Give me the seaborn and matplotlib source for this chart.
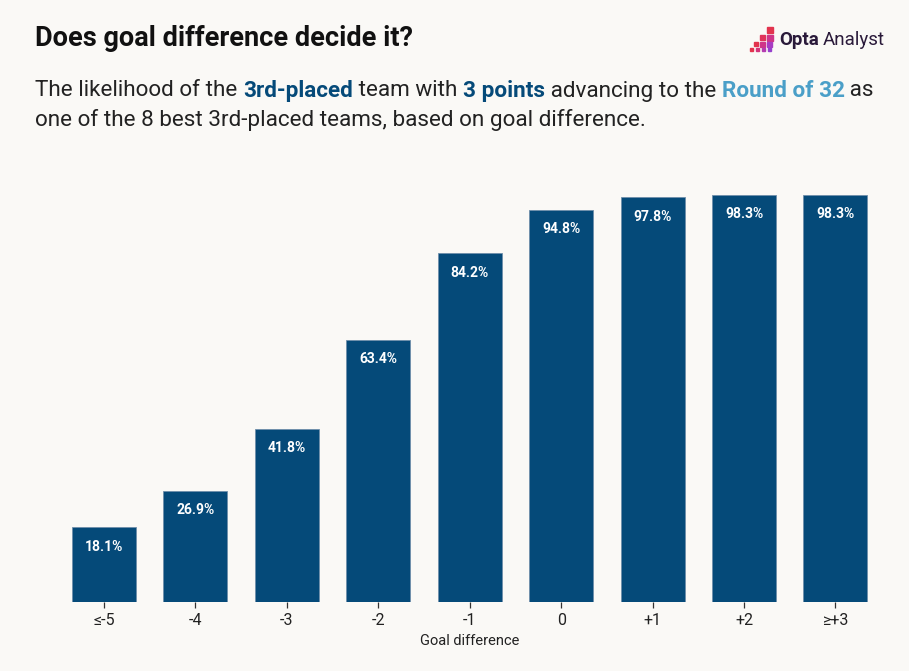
import matplotlib
matplotlib.use("Agg")
import matplotlib.pyplot as plt
import seaborn as sns
import pandas as pd
from matplotlib.patches import Rectangle

categories = ["≤-5", "-4", "-3", "-2", "-1", "0", "+1", "+2", "≥+3"]
likelihood = [18.1, 26.9, 41.8, 63.4, 84.2, 94.8, 97.8, 98.3, 98.3]

title = "Does goal difference decide it?"
xlabel = "Goal difference"

BG = "#faf9f6"
BAR = "#054a79"
DARK = "#111111"
LIGHTBLUE = "#4a9fc8"

sns.set_theme(style="white")
plt.rcParams["font.family"] = ["Roboto", "DejaVu Sans"]

df = pd.DataFrame({"gd": categories, "p": likelihood})

fig = plt.figure(figsize=(9.09, 6.71), dpi=100, facecolor=BG)
ax = fig.add_axes([0.0641, 0.1028, 0.9053, 0.617])
ax.set_facecolor(BG)

sns.barplot(data=df, x="gd", y="p", order=categories, color=BAR, saturation=1,
            width=0.7, edgecolor="#6f8fab", linewidth=0.6, ax=ax)

ax.set_xlim(-0.5, len(categories) - 0.5)
ax.set_ylim(0, 100)
for s in ax.spines.values():
    s.set_visible(False)
ax.set_yticks([])
ax.set_ylabel("")
ax.tick_params(axis="x", length=4, width=0.9, color="#333333", labelsize=11.5,
               labelcolor="#222222", pad=4, bottom=True)
ax.set_xlabel(xlabel, fontsize=10.5, color="#222222", labelpad=4)

for i, v in enumerate(likelihood):
    ax.annotate(f"{v}%", (i, v), xytext=(0, -14), textcoords="offset points",
                ha="center", va="center", color="white", fontsize=10,
                fontweight="bold")

# Title
fig.text(35 / 909, 1 - 38 / 671, title, fontsize=19.5, fontweight="bold",
         color=DARK, va="center", ha="left")

# Subtitle with coloured segments
fig.canvas.draw()
renderer = fig.canvas.get_renderer()

def draw_line(parts, x_px, y_px, size=16.2):
    x = x_px
    for txt, col, wt in parts:
        t = fig.text(x / 909, 1 - y_px / 671, txt, fontsize=size, color=col,
                     fontweight=wt, va="center", ha="left")
        bb = t.get_window_extent(renderer=renderer)
        x += bb.width

line1 = [("The likelihood of the ", "#222222", "normal"),
         ("3rd-placed", BAR, "bold"),
         (" team with ", "#222222", "normal"),
         ("3 points", BAR, "bold"),
         (" advancing to the ", "#222222", "normal"),
         ("Round of 32", LIGHTBLUE, "bold"),
         (" as", "#222222", "normal")]
line2 = [("one of the 8 best 3rd-placed teams, based on goal difference.", "#222222", "normal")]
draw_line(line1, 35, 91)
draw_line(line2, 35, 120)

# Logo (pixel staircase)
sq = [(767, 27, 6, "#e2344e"),
      (760, 35, 5, "#e0335a"), (767, 35, 6, "#cf3588"),
      (754, 42, 4, "#e2344e"), (760, 42, 5, "#cf3588"), (767, 42, 5, "#a83cc2"),
      (750, 48, 3, "#e2344e"), (756, 48, 3, "#d3337a"), (762, 48, 3, "#b43bb0"),
      (768, 48, 3, "#9640cc")]
for x0, y0, s, c in sq:
    fig.patches.append(Rectangle((x0 / 909, 1 - (y0 + s) / 671), s / 909, s / 671,
                                 transform=fig.transFigure, color=c))
t = fig.text(779 / 909, 1 - 40 / 671, "Opta", fontsize=13.5, fontweight="bold",
             color="#2a1a3a", va="center", ha="left")
bb = t.get_window_extent(renderer=renderer)
fig.text((779 + bb.width + 4) / 909, 1 - 40 / 671, "Analyst", fontsize=13.5,
         color="#2a1a3a", va="center", ha="left")

fig.savefig("out.png", dpi=100, facecolor=BG)
